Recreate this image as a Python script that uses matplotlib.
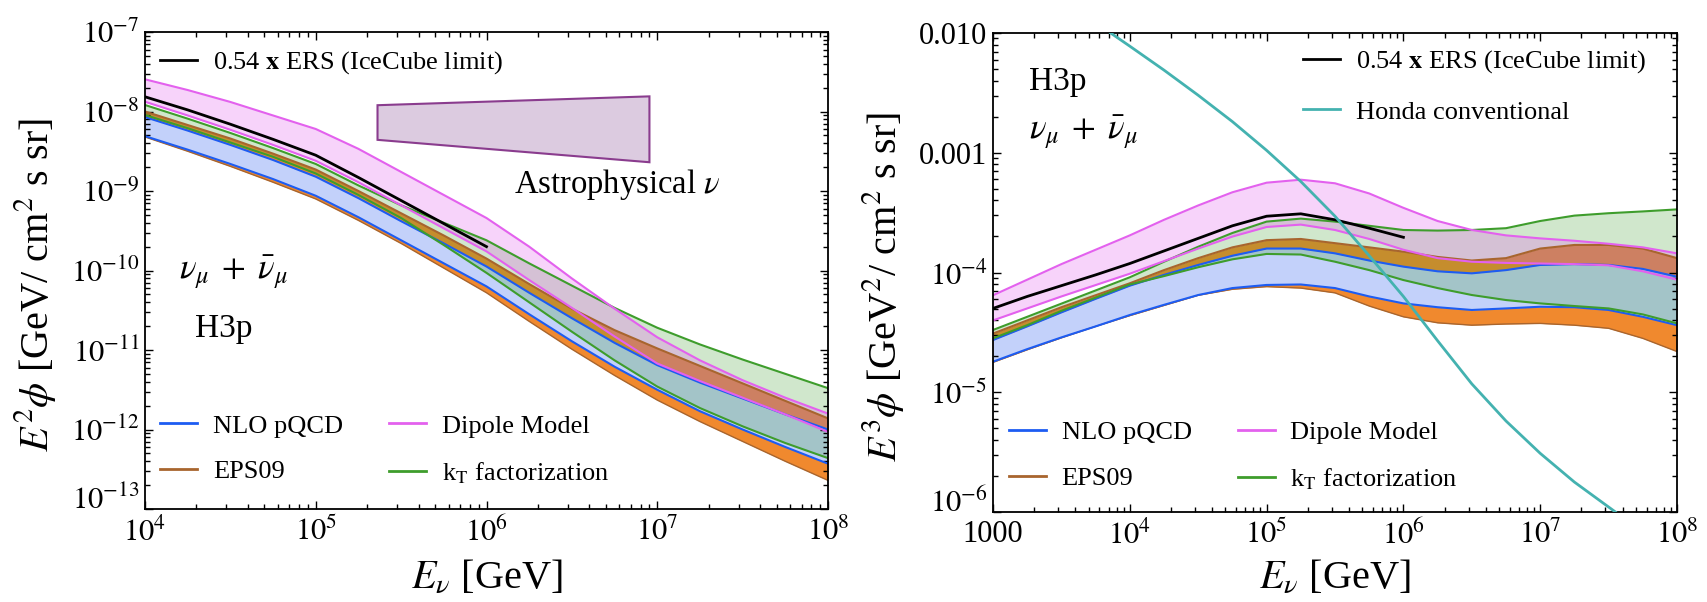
import numpy as np
import matplotlib
matplotlib.use("Agg")
import matplotlib.pyplot as plt
from matplotlib.lines import Line2D
from matplotlib.ticker import LogLocator, NullFormatter

plt.rcParams['font.family'] = ['Liberation Serif', 'DejaVu Serif']
plt.rcParams['mathtext.fontset'] = 'stix'

# ---------------- data (log10 values) ----------------
# left panel: E^2 phi  [GeV / cm^2 s sr]
left_logE = [4.0, 4.25, 4.5, 4.75, 5.0, 5.25, 5.5, 5.75, 6.0, 6.25, 6.5, 6.75, 7.0, 7.25, 7.5, 7.75, 8.0]
left_nlo_hi = [-8.07, -8.24, -8.42, -8.61, -8.82, -9.09, -9.38, -9.66, -9.95, -10.28, -10.60, -10.91, -11.19, -11.41, -11.61, -11.81, -12.00]
left_nlo_lo = [-8.31, -8.48, -8.66, -8.85, -9.06, -9.33, -9.62, -9.91, -10.20, -10.55, -10.89, -11.21, -11.50, -11.77, -12.00, -12.22, -12.43]
left_eps_hi = [-8.00, -8.17, -8.34, -8.53, -8.73, -9.00, -9.28, -9.56, -9.85, -10.17, -10.48, -10.75, -10.98, -11.20, -11.42, -11.64, -11.86]
left_eps_lo = [-8.32, -8.50, -8.69, -8.89, -9.10, -9.37, -9.66, -9.97, -10.28, -10.64, -10.99, -11.32, -11.63, -11.90, -12.15, -12.40, -12.64]
left_dip_hi = [-7.595, -7.73, -7.88, -8.05, -8.22, -8.47, -8.76, -9.05, -9.34, -9.70, -10.10, -10.48, -10.84, -11.13, -11.38, -11.60, -11.80]
left_dip_lo = [-7.877, -8.05, -8.23, -8.42, -8.62, -8.89, -9.18, -9.47, -9.76, -10.12, -10.47, -10.83, -11.17, -11.39, -11.60, -11.81, -12.03]
left_kt_hi = [-7.918, -8.09, -8.27, -8.46, -8.66, -8.93, -9.18, -9.40, -9.62, -9.91, -10.19, -10.47, -10.72, -10.93, -11.12, -11.30, -11.48]
left_kt_lo = [-8.044, -8.21, -8.39, -8.57, -8.78, -9.05, -9.34, -9.68, -10.03, -10.40, -10.77, -11.13, -11.46, -11.73, -11.96, -12.17, -12.36]
left_ers_logE = [4.0, 4.25, 4.5, 4.75, 5.0, 5.25, 5.5, 5.75, 6.0]
left_ers = [-7.815, -7.98, -8.16, -8.35, -8.55, -8.83, -9.12, -9.41, -9.70]

# astrophysical flux box (linear values)
astro_E = [2.3e5, 9e6, 9e6, 2.3e5]
astro_flux = [1.2e-8, 1.55e-8, 2.3e-9, 4.4e-9]

# right panel: E^3 phi  [GeV^2 / cm^2 s sr]
right_logE = [3.0, 3.25, 3.5, 3.75, 4.0, 4.25, 4.5, 4.75, 5.0, 5.25, 5.5, 5.75, 6.0, 6.25, 6.5, 6.75, 7.0, 7.25, 7.5, 7.75, 8.0]
right_nlo_hi = [-4.564, -4.45, -4.333, -4.22, -4.11, -4.02, -3.937, -3.86, -3.80, -3.80, -3.84, -3.90, -3.951, -3.99, -4.007, -3.98, -3.937, -3.93, -3.937, -3.97, -4.035]
right_nlo_lo = [-4.745, -4.64, -4.542, -4.45, -4.355, -4.27, -4.188, -4.13, -4.104, -4.10, -4.13, -4.20, -4.258, -4.29, -4.313, -4.30, -4.286, -4.29, -4.313, -4.37, -4.44]
right_eps_hi = [-4.51, -4.40, -4.29, -4.19, -4.09, -3.98, -3.88, -3.79, -3.73, -3.72, -3.755, -3.79, -3.826, -3.87, -3.90, -3.88, -3.80, -3.77, -3.77, -3.80, -3.88]
right_eps_lo = [-4.75, -4.645, -4.545, -4.45, -4.36, -4.275, -4.19, -4.14, -4.118, -4.13, -4.17, -4.28, -4.37, -4.42, -4.44, -4.43, -4.425, -4.44, -4.466, -4.55, -4.66]
right_dip_hi = [-4.19, -4.06, -3.93, -3.81, -3.69, -3.56, -3.44, -3.33, -3.25, -3.225, -3.255, -3.34, -3.46, -3.57, -3.645, -3.69, -3.715, -3.735, -3.76, -3.79, -3.84]
right_dip_lo = [-4.40, -4.30, -4.20, -4.105, -4.01, -3.905, -3.80, -3.70, -3.62, -3.60, -3.645, -3.72, -3.81, -3.88, -3.91, -3.92, -3.925, -3.93, -3.94, -3.99, -4.06]
right_kt_hi = [-4.48, -4.37, -4.26, -4.15, -4.04, -3.91, -3.785, -3.67, -3.575, -3.55, -3.575, -3.61, -3.645, -3.65, -3.645, -3.63, -3.57, -3.525, -3.505, -3.49, -3.473]
right_kt_lo = [-4.55, -4.44, -4.32, -4.21, -4.10, -4.03, -3.956, -3.89, -3.845, -3.85, -3.91, -3.98, -4.063, -4.13, -4.188, -4.23, -4.258, -4.28, -4.30, -4.35, -4.425]
right_ers_logE = [3.0, 3.25, 3.5, 3.75, 4.0, 4.25, 4.5, 4.75, 5.0, 5.25, 5.5, 5.75, 6.0]
right_ers = [-4.30, -4.20, -4.11, -4.02, -3.925, -3.82, -3.715, -3.61, -3.53, -3.51, -3.56, -3.63, -3.706]

# Honda conventional atmospheric flux
honda_logE = [3.86, 4.0, 4.25, 4.5, 4.75, 5.0, 5.25, 5.5, 5.75, 6.0, 6.25, 6.5, 6.75, 7.0, 7.25, 7.55]
honda_flux = [-2.00, -2.11, -2.31, -2.52, -2.74, -2.98, -3.24, -3.53, -3.86, -4.20, -4.57, -4.93, -5.24, -5.51, -5.75, -6.00]

# ticks
left_xticks = [1e4, 1e5, 1e6, 1e7, 1e8]
left_xlabels = ['$10^{4}$', '$10^{5}$', '$10^{6}$', '$10^{7}$', '$10^{8}$']
left_yticks = [1e-13, 1e-12, 1e-11, 1e-10, 1e-9, 1e-8, 1e-7]
left_ylabels = ['$10^{-13}$', '$10^{-12}$', '$10^{-11}$', '$10^{-10}$', '$10^{-9}$', '$10^{-8}$', '$10^{-7}$']
right_xticks = [1e3, 1e4, 1e5, 1e6, 1e7, 1e8]
right_xlabels = ['1000', '$10^{4}$', '$10^{5}$', '$10^{6}$', '$10^{7}$', '$10^{8}$']
right_yticks = [1e-6, 1e-5, 1e-4, 1e-3, 1e-2]
right_ylabels = ['$10^{-6}$', '$10^{-5}$', '$10^{-4}$', '0.001', '0.010']

# colours
C_BLUE = '#1d5cf2'
C_BLUE_FILL = '#c3d1fa'
C_ORANGE = '#f0892e'
C_BROWN = '#a8652e'
C_PINK = '#e361ee'
C_GREEN = '#3e9d2c'
C_CYAN = '#44b2b0'
C_ASTRO_FILL = '#dccbe0'
C_ASTRO_EDGE = '#8a3c8e'

TICK_FS = 22
LEG_FS = 19
LAB_FS = 29
TXT_FS = 24


def lin(v):
    return 10 ** np.asarray(v)


def style_axes(ax, xticks, xlabels, yticks, ylabels):
    ax.set_xscale('log')
    ax.set_yscale('log')
    ax.set_xticks(xticks, xlabels)
    ax.set_yticks(yticks, ylabels)
    ax.set_xlim(xticks[0], xticks[-1])
    ax.set_ylim(yticks[0], yticks[-1])
    for axis in (ax.xaxis, ax.yaxis):
        axis.set_minor_locator(LogLocator(base=10, subs=np.arange(2, 10), numticks=30))
        axis.set_minor_formatter(NullFormatter())
    ax.tick_params(which='both', direction='in', top=True, right=True,
                   labelsize=TICK_FS, width=1.0, color='black')
    ax.tick_params(which='major', length=6)
    ax.tick_params(which='minor', length=3.5)
    ax.tick_params(axis='x', pad=6)
    ax.tick_params(axis='y', pad=4)
    for s in ax.spines.values():
        s.set_linewidth(1.3)
    # lift the lowest y label so it clears the first x label in the corner
    ax.get_yticklabels()[0].set_va('baseline')


def draw_bands(ax, E, nlo_lo, nlo_hi, eps_lo, eps_hi, dip_lo, dip_hi, kt_lo, kt_hi):
    E = lin(E)
    ax.fill_between(E, lin(eps_lo), lin(eps_hi), color=C_ORANGE, lw=0, zorder=1)
    ax.fill_between(E, lin(nlo_lo), lin(nlo_hi), color=C_BLUE_FILL, lw=0, zorder=1.1)
    ax.fill_between(E, lin(kt_lo), lin(kt_hi), color=C_GREEN, alpha=0.24, lw=0, zorder=1.2)
    ax.fill_between(E, lin(dip_lo), lin(dip_hi), color=C_PINK, alpha=0.28, lw=0, zorder=1.3)
    ax.plot(E, lin(eps_lo), color=C_BROWN, lw=1.0, zorder=2)
    ax.plot(E, lin(eps_hi), color=C_BROWN, lw=1.5, zorder=2)
    ax.plot(E, lin(nlo_lo), color=C_BLUE, lw=1.5, zorder=2.1)
    ax.plot(E, lin(nlo_hi), color=C_BLUE, lw=1.5, zorder=2.1)
    ax.plot(E, lin(kt_lo), color=C_GREEN, lw=1.5, zorder=2.2)
    ax.plot(E, lin(kt_hi), color=C_GREEN, lw=1.5, zorder=2.2)
    ax.plot(E, lin(dip_lo), color=C_PINK, lw=1.5, zorder=2.3)
    ax.plot(E, lin(dip_hi), color=C_PINK, lw=1.5, zorder=2.3)


def model_legend(ax, anchor):
    handles = [Line2D([], [], color=C_BLUE, lw=2),
               Line2D([], [], color=C_BROWN, lw=2),
               Line2D([], [], color=C_PINK, lw=2),
               Line2D([], [], color=C_GREEN, lw=2)]
    labels = ['NLO pQCD', 'EPS09', 'Dipole Model', r'k$_\mathrm{T}$ factorization']
    return ax.legend(handles, labels, ncol=2, loc='center left', bbox_to_anchor=anchor,
                     frameon=False, fontsize=LEG_FS, handlelength=1.4, handletextpad=0.6,
                     columnspacing=1.75, labelspacing=0.85, borderpad=0, borderaxespad=0)


fig = plt.figure(figsize=(17.07, 6.02), dpi=100)
ax1 = fig.add_axes([145 / 1707, 1 - 509 / 602, 683 / 1707, 477 / 602])
ax2 = fig.add_axes([993 / 1707, 1 - 512 / 602, 684 / 1707, 479 / 602])

# ---------------- left panel ----------------
draw_bands(ax1, left_logE, left_nlo_lo, left_nlo_hi, left_eps_lo, left_eps_hi,
           left_dip_lo, left_dip_hi, left_kt_lo, left_kt_hi)
ers1, = ax1.plot(lin(left_ers_logE), lin(left_ers), color='black', lw=2.0, zorder=3)
ax1.fill(astro_E, astro_flux, facecolor=C_ASTRO_FILL, edgecolor=C_ASTRO_EDGE, lw=1.5, zorder=3)
style_axes(ax1, left_xticks, left_xlabels, left_yticks, left_ylabels)

leg_top1 = ax1.legend([ers1], [r'0.54 $\mathbf{x}$ ERS (IceCube limit)'], loc='center left',
                      bbox_to_anchor=(0.022, 0.935), frameon=False, fontsize=LEG_FS,
                      handlelength=1.4, handletextpad=0.6, borderpad=0, borderaxespad=0)
ax1.add_artist(leg_top1)
model_legend(ax1, (0.022, 0.124))

ax1.text(0.54, 0.681, r'Astrophysical $\nu$', transform=ax1.transAxes, fontsize=23.5,
         ha='left', va='center')
ax1.text(0.05, 0.495, r'$\nu_\mu\;+\;\bar{\nu}_\mu$', transform=ax1.transAxes, fontsize=25,
         ha='left', va='center')
ax1.text(0.073, 0.377, 'H3p', transform=ax1.transAxes, fontsize=TXT_FS, ha='left', va='center')

ax1.set_xlabel(r'$E_\nu$ [GeV]', fontsize=LAB_FS, va='center')
ax1.xaxis.set_label_coords(0.5, -0.145)
ax1.set_ylabel(r'$E^2\phi$ [GeV/ cm$^2$ s sr]', fontsize=LAB_FS, va='center')
ax1.yaxis.set_label_coords(-0.161, 0.47)

# ---------------- right panel ----------------
draw_bands(ax2, right_logE, right_nlo_lo, right_nlo_hi, right_eps_lo, right_eps_hi,
           right_dip_lo, right_dip_hi, right_kt_lo, right_kt_hi)
ers2, = ax2.plot(lin(right_ers_logE), lin(right_ers), color='black', lw=2.0, zorder=3)
honda, = ax2.plot(lin(honda_logE), lin(honda_flux), color=C_CYAN, lw=2.0, zorder=4)
style_axes(ax2, right_xticks, right_xlabels, right_yticks, right_ylabels)

leg_top2 = ax2.legend([ers2, honda], [r'0.54 $\mathbf{x}$ ERS (IceCube limit)', 'Honda conventional'],
                      loc='upper left', bbox_to_anchor=(0.453, 0.968), frameon=False,
                      fontsize=LEG_FS, handlelength=1.4, handletextpad=0.6,
                      labelspacing=0.95, borderpad=0, borderaxespad=0)
ax2.add_artist(leg_top2)
model_legend(ax2, (0.023, 0.116))

ax2.text(0.053, 0.898, 'H3p', transform=ax2.transAxes, fontsize=TXT_FS, ha='left', va='center')
ax2.text(0.053, 0.793, r'$\nu_\mu\;+\;\bar{\nu}_\mu$', transform=ax2.transAxes, fontsize=25,
         ha='left', va='center')

ax2.set_xlabel(r'$E_\nu$ [GeV]', fontsize=LAB_FS, va='center')
ax2.xaxis.set_label_coords(0.5, -0.138)
ax2.set_ylabel(r'$E^3\phi$ [GeV$^2$/ cm$^2$ s sr]', fontsize=LAB_FS, va='center')
ax2.yaxis.set_label_coords(-0.161, 0.47)

fig.savefig('out.png', dpi=100)
